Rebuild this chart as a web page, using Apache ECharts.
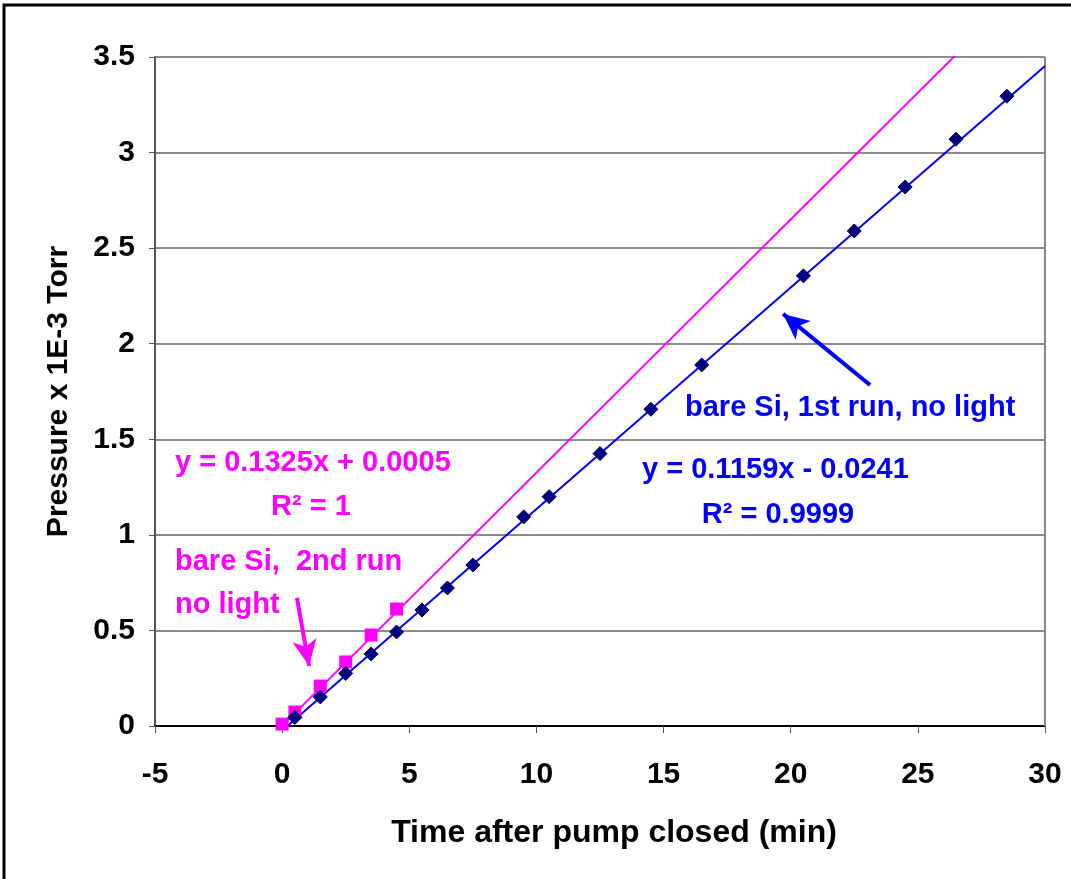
<!DOCTYPE html>
<html lang="en">
<head>
	<meta charset="utf-8">
	<title>Pressure vs time</title>
	<script src="https://cdn.jsdelivr.net/npm/echarts@6/dist/echarts.min.js"></script>
	<style>
		html, body { margin: 0; padding: 0; background: #fff; }
		#panel { width: 1071px; height: 879px; }
	</style>
</head>
<body>
	<div id="panel"></div>
	<script type="text/javascript">
		// 1st run (blue diamonds)
		const run1X = [0.5, 1.5, 2.5, 3.5, 4.5, 5.5, 6.5, 7.5, 9.5, 10.5, 12.5, 14.5, 16.5, 20.5, 22.5, 24.5, 26.5, 28.5];
		const run1Y = [0.045, 0.152, 0.275, 0.377, 0.492, 0.607, 0.722, 0.842, 1.094, 1.200, 1.425, 1.657, 1.889, 2.355, 2.590, 2.820, 3.070, 3.295];
		// 2nd run (magenta squares)
		const run2X = [0, 0.5, 1.5, 2.5, 3.5, 4.5];
		const run2Y = [0.01, 0.073, 0.209, 0.335, 0.476, 0.612];
		// trendline coefficients [slope, intercept] and x ranges
		const trend1 = [0.1159, -0.0241];
		const trend1X = [0.208, 30];
		const trend2 = [0.1325, 0.0005];
		const trend2X = [0, 30];
		// arrows [from, to] in data coords
		const arrow1 = [[23.12, 1.784], [19.7, 2.156]];
		const arrow2 = [[0.58, 0.67], [1.06, 0.314]];
		const xTicks = [-5, 0, 5, 10, 15, 20, 25, 30];
		const yTicks = [0, 0.5, 1, 1.5, 2, 2.5, 3, 3.5];

		const FONT = '"Liberation Sans", Arial, sans-serif';
		const BLUE = '#0000ff';
		const NAVY = '#000080';
		const MAG = '#ff00ff';

		const zip = (xs, ys) => xs.map((x, i) => [x, ys[i]]);
		const trendPts = (c, xs) => xs.map(x => [x, c[0] * x + c[1]]);

		const panel = echarts.init(document.getElementById('panel'));

		const txt = (text, x, y, color, align) => ({
			type: 'text', x: x, y: y, z: 100,
			style: {
				text: text, fill: color, font: 'bold 29px ' + FONT,
				align: align || 'left', verticalAlign: 'middle'
			}
		});

		const arrowLine = (color, pts) => ({
			silent: true, symbol: ['none', 'arrow'], symbolSize: [18, 26],
			itemStyle: { color: color },
			lineStyle: { color: color, width: 4, type: 'solid' }, label: { show: false },
			data: [[{ coord: pts[0] }, { coord: pts[1] }]]
		});

		let option = {
			animation: false,
			backgroundColor: '#fff',
			grid: { left: 155, right: 26, top: 57, bottom: 153 },
			xAxis: {
				type: 'value', min: -5, max: 30, interval: 5,
				name: 'Time after pump closed (min)',
				nameLocation: 'middle', nameGap: 91,
				nameTextStyle: { color: '#000', fontSize: 32, fontWeight: 'bold', fontFamily: FONT, padding: [0, 0, 0, 28] },
				axisLine: { onZero: false, lineStyle: { color: '#000', width: 2 } },
				axisTick: { show: true, length: 7, lineStyle: { color: '#555', width: 1 } },
				axisLabel: {
					color: '#000', fontSize: 30, fontWeight: 'bold', fontFamily: FONT, margin: 34,
					formatter: v => xTicks.includes(v) ? String(v) : ''
				},
				splitLine: { show: false }
			},
			yAxis: {
				type: 'value', min: 0, max: 3.5, interval: 0.5,
				name: 'Pressure x 1E-3 Torr',
				nameLocation: 'middle', nameGap: 81,
				nameTextStyle: { color: '#000', fontSize: 30, fontWeight: 'bold', fontFamily: FONT },
				axisLine: { show: true, onZero: false, lineStyle: { color: '#555', width: 2 } },
				axisTick: { show: true, length: 6, lineStyle: { color: '#555', width: 1 } },
				axisLabel: {
					color: '#000', fontSize: 30, fontWeight: 'bold', fontFamily: FONT, margin: 20,
					formatter: v => yTicks.includes(v) ? String(v) : ''
				},
				splitLine: { show: true, lineStyle: { color: '#666', width: 1.5 } }
			},
			graphic: [
				// outer frame (top + left)
				{ type: 'polyline', z: 100, shape: { points: [[4, 879], [4, 5], [1071, 5]] }, style: { stroke: '#000', lineWidth: 3, fill: null } },
				// right border of plot area
				{ type: 'line', z: 1, shape: { x1: 1045, y1: 57, x2: 1045, y2: 726 }, style: { stroke: '#888', lineWidth: 2 } },
				txt('y = 0.1325x + 0.0005', 175, 463, MAG),
				txt('R² = 1', 311, 507, MAG, 'center'),
				txt('bare Si,  2nd run', 175, 562, MAG),
				txt('no light', 175, 605, MAG),
				txt('bare Si, 1st run, no light', 685, 408, BLUE),
				txt('y = 0.1159x - 0.0241', 642, 470, BLUE),
				txt('R² = 0.9999', 778, 515, BLUE, 'center')
			],
			series: [
				{
					name: 'trend1', type: 'line', data: trendPts(trend1, trend1X),
					showSymbol: false, symbol: 'none', clip: true, z: 2,
					lineStyle: { color: BLUE, width: 2 },
					markLine: arrowLine(BLUE, arrow1)
				},
				{
					name: 'trend2', type: 'line', data: trendPts(trend2, trend2X),
					showSymbol: false, symbol: 'none', clip: true, z: 2,
					lineStyle: { color: MAG, width: 2 },
					markLine: arrowLine(MAG, arrow2)
				},
				{
					name: 'run1', type: 'scatter', data: zip(run1X, run1Y), z: 4,
					symbol: 'diamond', symbolSize: 14,
					itemStyle: { color: NAVY, borderColor: '#000050', borderWidth: 1, opacity: 1 }
				},
				{
					name: 'run2', type: 'scatter', data: zip(run2X, run2Y), z: 3,
					symbol: 'rect', symbolSize: 13,
					itemStyle: { color: MAG, opacity: 1 }
				}
			]
		};
		panel.setOption(option);
	</script>
</body>
</html>
